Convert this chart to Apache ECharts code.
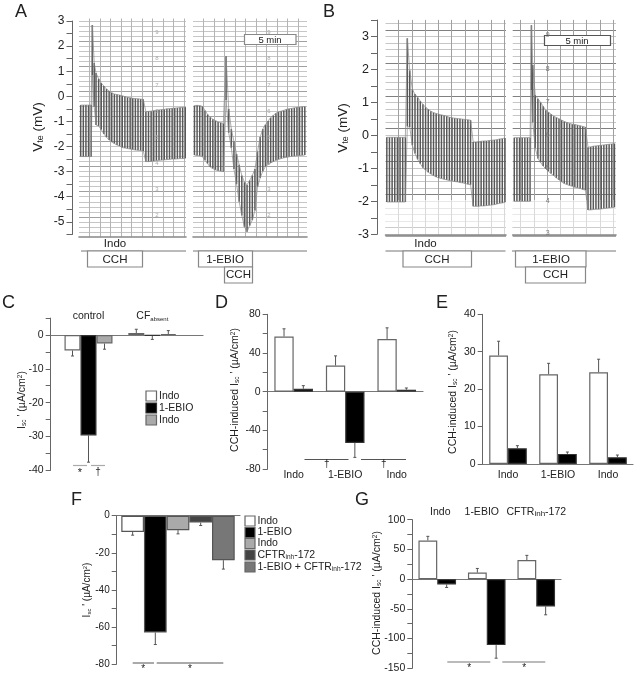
<!DOCTYPE html>
<html lang="en">
<head>
    <meta charset="UTF-8">
    <title>Vte traces and Isc' bars</title>
    <script src="https://cdn.jsdelivr.net/npm/echarts@6/dist/echarts.min.js"></script>
    <style>
        html, body {margin: 0; padding: 0; background: #fff;}
        #main {width: 636px; height: 674px; filter: blur(0.45px);}
    </style>
</head>
<body>
<div id="main"></div>
<script type="text/javascript">
    // trace A, left part (minutes, top and bottom of every pulse, mV)
    var aLeftTime = [0.16,0.41,0.66,0.91,1.16,1.27,1.45,1.62,1.87,2.12,2.37,2.62,2.87,3.12,3.37,3.62,3.87,4.12,4.37,4.62,4.87,5.12,5.37,5.62,5.87,6.12,6.37,6.62,6.87,7.12,7.37,7.62,7.87,8.12,8.37,8.62,8.87,9.12,9.37,9.62,9.87,10.12];
    var aLeftTop = [-0.35,-0.35,-0.35,-0.35,-0.35,2.84,1.33,0.93,0.7,0.53,0.41,0.29,0.21,0.14,0.09,0.07,0.05,0.02,-0.01,-0.04,-0.06,-0.08,-0.09,-0.1,-0.11,-0.12,-0.61,-0.6,-0.59,-0.57,-0.55,-0.54,-0.53,-0.52,-0.5,-0.49,-0.48,-0.47,-0.46,-0.45,-0.44,-0.43];
    var aLeftBot = [-2.4,-2.4,-2.4,-2.4,-2.4,0.85,-0.42,-1.14,-1.18,-1.33,-1.5,-1.63,-1.74,-1.82,-1.88,-1.94,-1.98,-2.04,-2.06,-2.08,-2.1,-2.12,-2.14,-2.15,-2.16,-2.18,-2.6,-2.6,-2.59,-2.58,-2.56,-2.55,-2.54,-2.53,-2.52,-2.51,-2.5,-2.5,-2.49,-2.48,-2.48,-2.47];
    // trace A, right part
    var aRightTime = [0.14,0.39,0.64,0.89,1.14,1.39,1.64,1.89,2.14,2.39,2.64,2.89,3.15,3.4,3.65,3.9,4.15,4.4,4.65,4.9,5.15,5.4,5.65,5.9,6.15,6.4,6.65,6.9,7.15,7.4,7.65,7.9,8.15,8.4,8.65,8.9,9.15,9.4,9.65,9.9,10.15,10.4,10.65];
    var aRightTop = [-0.37,-0.36,-0.37,-0.4,-0.56,-0.72,-0.83,-0.91,-0.97,-1.02,-1.05,-1.08,1.6,-0.5,-1.3,-1.8,-2.3,-2.73,-3.15,-3.42,-3.52,-3.35,-3.15,-2.9,-2.2,-1.62,-1.3,-1.13,-0.98,-0.85,-0.76,-0.67,-0.62,-0.59,-0.56,-0.52,-0.5,-0.48,-0.46,-0.44,-0.43,-0.42,-0.41];
    var aRightBot = [-2.34,-2.36,-2.37,-2.4,-2.55,-2.68,-2.82,-2.88,-2.93,-2.96,-2.98,-3.0,-0.15,-1.45,-2.05,-2.9,-3.5,-4.2,-4.75,-5.2,-5.39,-5.15,-4.93,-4.55,-3.6,-3.25,-2.98,-2.8,-2.72,-2.65,-2.6,-2.55,-2.51,-2.48,-2.45,-2.43,-2.41,-2.39,-2.38,-2.37,-2.36,-2.35,-2.34];
    // trace B, left part
    var bLeftTime = [0.1,0.3,0.5,0.7,0.9,1.1,1.3,1.5,1.65,1.83,2.03,2.23,2.43,2.63,2.83,3.03,3.23,3.43,3.63,3.83,4.03,4.23,4.43,4.63,4.83,5.03,5.23,5.43,5.63,5.83,6.03,6.23,6.43,6.63,6.83,7.03,7.23,7.43,7.63,7.83,8.03,8.23,8.43,8.63,8.83,9.03];
    var bLeftTop = [-0.06,-0.06,-0.06,-0.06,-0.06,-0.06,-0.06,-0.06,2.94,1.97,1.39,1.25,1.15,1.04,0.94,0.85,0.79,0.73,0.69,0.66,0.64,0.62,0.6,0.58,0.55,0.53,0.52,0.51,0.5,0.49,0.48,0.47,0.46,-0.2,-0.2,-0.19,-0.18,-0.17,-0.17,-0.16,-0.15,-0.14,-0.13,-0.11,-0.1,-0.08];
    var bLeftBot = [-2.02,-2.02,-2.02,-2.02,-2.02,-2.02,-2.02,-2.02,0.27,0.25,-0.3,-0.55,-0.73,-0.86,-0.98,-1.05,-1.12,-1.17,-1.22,-1.26,-1.29,-1.31,-1.33,-1.35,-1.37,-1.38,-1.4,-1.41,-1.43,-1.44,-1.46,-1.48,-1.5,-2.15,-2.15,-2.15,-2.14,-2.14,-2.13,-2.12,-2.11,-2.1,-2.08,-2.06,-2.05,-2.03];
    // trace B, right part
    var bRightTime = [0.12,0.32,0.52,0.72,0.92,1.12,1.32,1.42,1.52,1.71,1.91,2.11,2.31,2.51,2.71,2.91,3.11,3.31,3.51,3.71,3.91,4.11,4.31,4.51,4.71,4.91,5.11,5.31,5.51,5.71,5.91,6.11,6.31,6.51,6.71,6.91,7.11,7.31,7.51,7.71];
    var bRightTop = [-0.07,-0.07,-0.07,-0.07,-0.07,-0.07,-0.07,3.34,2.13,1.22,1.11,1.0,0.88,0.76,0.7,0.64,0.58,0.54,0.5,0.46,0.42,0.39,0.36,0.34,0.33,0.31,0.29,0.27,0.25,-0.36,-0.35,-0.33,-0.32,-0.31,-0.3,-0.29,-0.28,-0.27,-0.26,-0.25];
    var bRightBot = [-2,-2,-2,-2,-2,-2,-2,1.37,0.4,-0.39,-0.7,-0.82,-0.93,-1.02,-1.09,-1.16,-1.22,-1.29,-1.35,-1.41,-1.46,-1.49,-1.52,-1.54,-1.57,-1.59,-1.61,-1.64,-1.66,-2.26,-2.26,-2.25,-2.24,-2.24,-2.23,-2.22,-2.21,-2.2,-2.19,-2.18];

    // panel C
    var cGroups = ['control', 'CF'];
    var cIndo1 = [-4.55, 0.6];
    var cEbio = [-29.7, -0.2];
    var cIndo2 = [-2.5, 0.3];
    var cIndo1Err = [-6.2, 1.7];
    var cEbioErr = [-37.6, -1.3];
    var cIndo2Err = [-4.2, 1.3];
    // panel D
    var dGroups = ['Indo', '1-EBIO', 'Indo'];
    var dWhite = [57, 27, 54.5];
    var dBlack = [3, -53, 2];
    var dWhiteErr = [65, 37, 66];
    var dBlackErr = [6.2, -68, 3.8];
    // panel E
    var eGroups = ['Indo', '1-EBIO', 'Indo'];
    var eWhite = [29, 24, 24.5];
    var eBlack = [4.2, 2.7, 1.8];
    var eWhiteErr = [32.8, 26.9, 28];
    var eBlackErr = [4.9, 3.2, 2.4];
    // panel F
    var fNames = ['Indo', '1-EBIO', 'Indo', 'CFTRinh-172', '1-EBIO + CFTRinh-172'];
    var fValues = [-8.8, -63, -7.8, -3.7, -24];
    var fErr = [-10.5, -69.5, -9.8, -5.3, -28.8];
    // panel G
    var gGroups = ['Indo', '1-EBIO', 'CFTR'];
    var gWhite = [65, 11, 32];
    var gBlack = [-9, -111, -46];
    var gWhiteErr = [72, 18, 40];
    var gBlackErr = [-14, -133, -60];

    var FONT = '"Liberation Sans", Arial, sans-serif';
    var grids = [], xAxes = [], yAxes = [], series = [], notes = [];

    function isInt(v) {
        return Math.abs(v - Math.round(v)) < 1e-6;
    }

    // a grid placed by its pixel box
    function addGrid(left, right, top, bottom) {
        grids.push({left: left, top: top, width: right - left, height: bottom - top, containLabel: false});
        return grids.length - 1;
    }

    // y axis with its own small grid, no marks in it, optional zero line going right
    function addScale(left, right, top, bottom, min, max, step, labelStep, fontSize, zeroLine) {
        var g = addGrid(left, right, top, bottom);
        var tickLen = fontSize > 11 ? 6 : 5;
        xAxes.push({
            gridIndex: g, type: 'value', min: 0, max: 1,
            axisLine: {show: !!zeroLine, onZero: true, lineStyle: {color: '#777', width: 1.2}},
            axisTick: {show: false}, axisLabel: {show: false}, splitLine: {show: false}
        });
        yAxes.push({
            gridIndex: g, type: 'value', min: min, max: max, interval: step,
            axisLine: {show: true, lineStyle: {color: '#666', width: 1}},
            axisTick: {show: true, length: tickLen, lineStyle: {color: '#666'}},
            splitLine: {show: false},
            axisLabel: {
                margin: tickLen + 2, color: '#222', fontFamily: FONT, fontSize: fontSize,
                formatter: function (v) { return isInt(v / labelStep) ? String(v) : ''; }
            }
        });
    }

    // one chart-recorder trace on ruled paper
    function addTrace(left, right, top, bottom, xMax, xStep, xColors, yMin, yMax, yColors, times, tops, bots) {
        var g = addGrid(left, right, top, bottom);
        xAxes.push({
            gridIndex: g, type: 'value', min: 0, max: xMax, interval: xStep,
            axisLine: {show: true, onZero: false, lineStyle: {color: '#888', width: 1.6}},
            axisTick: {show: false}, axisLabel: {show: false},
            splitLine: {show: true, showMinLine: false, showMaxLine: false, lineStyle: {color: xColors, width: 1}}
        });
        yAxes.push({
            gridIndex: g, type: 'value', min: yMin, max: yMax, interval: 0.2,
            axisLine: {show: false}, axisTick: {show: false}, axisLabel: {show: false},
            splitLine: {show: true, showMinLine: false, showMaxLine: false, lineStyle: {color: yColors, width: 1}}
        });
        var xi = xAxes.length - 1, yi = yAxes.length - 1;
        var pulses = times.map(function (t, i) { return [t, tops[i], bots[i]]; });
        series.push({
            type: 'custom', xAxisIndex: xi, yAxisIndex: yi, data: pulses, silent: true,
            encode: {x: 0, y: [1, 2]},
            renderItem: function (params, api) {
                var a = api.coord([api.value(0), api.value(1)]);
                var b = api.coord([api.value(0), api.value(2)]);
                return {type: 'line', shape: {x1: a[0], y1: a[1], x2: b[0], y2: b[1]}, style: {stroke: '#585858', lineWidth: 1.5}};
            }
        });
        [1, 2].forEach(function (k) {
            series.push({
                type: 'line', xAxisIndex: xi, yAxisIndex: yi, showSymbol: false, silent: true,
                data: pulses.map(function (p) { return [p[0], p[k]]; }),
                lineStyle: {color: '#888', width: 0.7}
            });
        });
    }

    function addErrors(ax, offset, values, errs) {
        series.push({
            type: 'custom', xAxisIndex: ax.x, yAxisIndex: ax.y, silent: true, clip: false,
            data: values.map(function (v, i) { return [i, v, errs[i]]; }),
            encode: {x: 0, y: [1, 2]},
            renderItem: function (params, api) {
                var a = api.coord([api.value(0), api.value(1)]);
                var b = api.coord([api.value(0), api.value(2)]);
                var x = a[0] + offset;
                var st = {stroke: '#555', lineWidth: 1};
                return {type: 'group', children: [
                    {type: 'line', shape: {x1: x, y1: a[1], x2: x, y2: b[1]}, style: st},
                    {type: 'line', shape: {x1: x - 1.5, y1: b[1], x2: x + 1.5, y2: b[1]}, style: st}
                ]};
            }
        });
    }

    // grid holding bars, its y scale matches the one drawn by addScale
    function addBarGrid(left, right, top, bottom, min, max, cats) {
        var g = addGrid(left, right, top, bottom);
        xAxes.push({
            gridIndex: g, type: 'category', data: cats, position: 'bottom',
            axisLine: {show: false, onZero: true}, axisTick: {show: false}, axisLabel: {show: false}
        });
        yAxes.push({gridIndex: g, type: 'value', min: min, max: max, show: false, splitLine: {show: false}});
        return {x: xAxes.length - 1, y: yAxes.length - 1, grid: g};
    }

    function addBars(ax, values, width, fill, border) {
        series.push({
            type: 'bar', xAxisIndex: ax.x, yAxisIndex: ax.y, data: values, barWidth: width, barGap: 0, silent: true,
            itemStyle: {color: fill, borderColor: border, borderWidth: 1.2}
        });
    }

    // extra axis used only for category text
    function addCatLabels(ax, cats, pos, margin, labelOpt) {
        xAxes.push({
            gridIndex: ax.grid, type: 'category', data: cats, position: pos,
            axisLine: {show: false, onZero: false}, axisTick: {show: false},
            axisLabel: Object.assign({
                show: true, margin: margin, interval: 0, color: '#222', fontFamily: FONT, fontSize: 10.5
            }, labelOpt || {})
        });
    }

    function gLine(x1, y1, x2, y2, color, w) {
        notes.push({type: 'line', z: 100, silent: true, shape: {x1: x1, y1: y1, x2: x2, y2: y2}, style: {stroke: color, lineWidth: w || 1}});
    }
    function gRect(x1, y1, x2, y2, fill, stroke, w) {
        notes.push({type: 'rect', z: 100, silent: true, shape: {x: x1, y: y1, width: x2 - x1, height: y2 - y1}, style: {fill: fill, stroke: stroke, lineWidth: w || 1.2}});
    }
    // paper area that printed faintly: white veil between the rules and the trace
    function gVeil(x1, y1, x2, y2) {
        notes.push({type: 'rect', z: 1, silent: true, shape: {x: x1, y: y1, width: x2 - x1, height: y2 - y1}, style: {fill: 'rgba(255,255,255,0.6)'}});
    }
    function gText(x, y, text, size, opt) {
        opt = opt || {};
        notes.push({
            type: 'text', z: 101, silent: true, x: x, y: y, rotation: opt.rotate ? Math.PI / 2 : 0,
            style: {
                text: text, fontSize: size, fontFamily: FONT, fill: opt.color || '#222',
                align: opt.align || 'center', verticalAlign: 'middle', rich: opt.rich
            }
        });
    }
    function subRich(size, subSize) {
        return {
            n: {fontSize: size, fontFamily: FONT, fill: '#222'},
            s: {fontSize: subSize, fontFamily: FONT, fill: '#222', verticalAlign: 'bottom'},
            u: {fontSize: subSize, fontFamily: FONT, fill: '#222', verticalAlign: 'top'}
        };
    }

    // ---- A ----
    var faint = '#c6c6c6', darkA = '#a0a0a0', darkB = '#808080', none = 'rgba(0,0,0,0)';
    addScale(72.5, 73.5, 21, 234.4, -5.5, 3, 0.5, 1, 12);
    addTrace(79, 186, 18.5, 236.9, 10.19, 1, ['#b4b4b4'], -5.6, 3.1, [faint, faint, faint, darkA, faint], aLeftTime, aLeftTop, aLeftBot);
    addTrace(193, 307, 18.5, 236.9, 10.86, 0.1, [none, none, none, none, none, none, none, none, none, '#b4b4b4'], -5.6, 3.1, [faint, faint, faint, darkA, faint], aRightTime, aRightTop, aRightBot);
    gText(38, 127, '{n|V}{s|te}{n| (mV)}', 13.5, {rotate: true, rich: subRich(13.5, 9)});
    gText(15, 12, 'A', 18, {align: 'left'});
    gText(115, 244, 'Indo', 11.5);
    gLine(81, 251, 186, 251, '#777');
    gLine(193, 251, 307, 251, '#777');
    gRect(87.5, 251, 142.5, 267, '#fff', '#888');
    gText(115, 259.5, 'CCH', 11.5);
    gRect(198.5, 251, 252.5, 267, '#fff', '#888');
    gText(225, 259.5, '1-EBIO', 11.5);
    gRect(224.5, 267, 252.5, 283, '#fff', '#888');
    gText(238.5, 275, 'CCH', 11.5);
    gRect(244.5, 34.5, 296, 44.5, '#fff', '#888');
    gText(270, 40, '5 min', 9.5);

    // ---- B ----
    addScale(377, 378, 20, 234.3, -3, 3.5, 0.5, 1, 12.5);
    addTrace(385.5, 506, 19.9, 234.3, 9.11, 1, ['#a0a0a0'], -3, 3.5, [darkB, faint, faint, faint, faint], bLeftTime, bLeftTop, bLeftBot);
    addTrace(512.7, 616, 19.9, 234.3, 7.83, 0.2, [none, none, '#a0a0a0', none, none], -3, 3.5, [darkB, faint, faint, faint, faint], bRightTime, bRightTop, bRightBot);
    gVeil(385.5, 200, 506, 234);
    gVeil(512.7, 200, 616, 234);
    gText(343, 128, '{n|V}{s|te}{n| (mV)}', 13.5, {rotate: true, rich: subRich(13.5, 9)});
    gText(323, 12, 'B', 18, {align: 'left'});
    gLine(385.5, 236, 506, 236, '#888', 1.6);
    gLine(512.7, 236, 616, 236, '#888', 1.6);
    gText(425.5, 244, 'Indo', 11.5);
    gLine(385.5, 251, 505.5, 251, '#777');
    gLine(512, 251, 616, 251, '#777');
    gRect(403, 251, 471.5, 267, '#fff', '#888');
    gText(437, 259.5, 'CCH', 11.5);
    gRect(515.5, 251, 586, 267, '#fff', '#888');
    gText(551, 259.5, '1-EBIO', 11.5);
    gRect(525.5, 267, 585.5, 283, '#fff', '#888');
    gText(555.5, 275, 'CCH', 11.5);
    gRect(544.5, 35.5, 610.5, 45.5, '#fff', '#555');
    gText(577, 41, '5 min', 9.5);

    // printed paper marks
    [32, 58, 85, 111, 137, 163, 189, 215].forEach(function (y, i) {
        gText(157, y, String(9 - i), 6, {color: '#aaa'});
        gText(269, y, String(9 - i), 6, {color: '#aaa'});
    });
    [35, 69, 102, 135, 168, 201, 233].forEach(function (y, i) {
        gText(547.7, y, String(9 - i), 7, {color: '#777'});
    });

    // ---- C ----
    addScale(50.7, 203, 318.1, 470.3, -40, 5, 5, 10, 10.5, true);
    var cAx = addBarGrid(56.6, 184.2, 318.1, 470.3, -40, 5, cGroups);
    addBars(cAx, cIndo1, 16, '#fff', '#666');
    addBars(cAx, cEbio, 16, '#000', '#333');
    addBars(cAx, cIndo2, 16, '#aaa', '#666');
    addErrors(cAx, -16, cIndo1, cIndo1Err);
    addErrors(cAx, 0, cEbio, cEbioErr);
    addErrors(cAx, 16, cIndo2, cIndo2Err);
    addCatLabels(cAx, cGroups, 'top', -4, {
        formatter: function (v) { return v === 'CF' ? '{n|CF}{s|absent}' : '{n|' + v + '}'; },
        rich: {n: {fontSize: 10.5, fontFamily: FONT, color: '#222'}, s: {fontSize: 6, fontFamily: FONT, color: '#222', verticalAlign: 'bottom'}}
    });
    gText(22, 400, "{n|I}{s|sc}{n| ' (\u00b5A/cm}{u|2}{n|)}", 10.5, {rotate: true, rich: subRich(10.5, 6.5)});
    gText(2, 303, 'C', 18, {align: 'left'});
    gRect(146, 391, 156.5, 401, '#fff', '#666');
    gRect(146, 403, 156.5, 413, '#000', '#333');
    gRect(146, 415, 156.5, 425, '#aaa', '#666');
    gText(159, 396, 'Indo', 10.5, {align: 'left'});
    gText(159, 408, '1-EBIO', 10.5, {align: 'left'});
    gText(159, 420, 'Indo', 10.5, {align: 'left'});
    gLine(73, 465.5, 87, 465.5, '#aaa', 1.2);
    gLine(91, 465.5, 105, 465.5, '#aaa', 1.2);
    gText(80, 473, '*', 11);
    gText(98, 472, '\u2020', 10);

    // ---- D ----
    addScale(267.7, 423, 314.3, 469, -80, 80, 20, 40, 10.5, true);
    var dAx = addBarGrid(267.9, 422.5, 314.3, 469, -80, 80, dGroups);
    addBars(dAx, dWhite, 19.3, '#fff', '#666');
    addBars(dAx, dBlack, 19.3, '#000', '#333');
    addErrors(dAx, -9.65, dWhite, dWhiteErr);
    addErrors(dAx, 9.65, dBlack, dBlackErr);
    addCatLabels(dAx, dGroups, 'bottom', 1);
    gText(235, 390, "{n|CCH-induced I}{s|sc}{n| ' (\u00b5A/cm}{u|2}{n|)}", 10.5, {rotate: true, rich: subRich(10.5, 6.5)});
    gText(215, 303, 'D', 18, {align: 'left'});
    gLine(304.5, 459.5, 348.5, 459.5, '#555');
    gLine(361, 459.5, 406, 459.5, '#555');
    gText(326.7, 464, '\u2020', 10);
    gText(383.7, 464, '\u2020', 10);

    // ---- E ----
    addScale(482.7, 633, 314.3, 464, 0, 40, 10, 10, 10.5, true);
    var eAx = addBarGrid(483, 633, 314.3, 464, 0, 40, eGroups);
    addBars(eAx, eWhite, 18.8, '#fff', '#666');
    addBars(eAx, eBlack, 18.8, '#000', '#333');
    addErrors(eAx, -9.4, eWhite, eWhiteErr);
    addErrors(eAx, 9.4, eBlack, eBlackErr);
    addCatLabels(eAx, eGroups, 'bottom', 6);
    gText(453, 392, "{n|CCH-induced I}{s|sc}{n| ' (\u00b5A/cm}{u|2}{n|)}", 10.5, {rotate: true, rich: subRich(10.5, 6.5)});
    gText(436, 303, 'E', 18, {align: 'left'});

    // ---- F ----
    var fColors = ['#fff', '#000', '#aaa', '#444', '#777'];
    addScale(116.7, 240, 515.7, 664, -80, 0, 10, 20, 10, true);
    var fAx = addBarGrid(121.3, 234.7, 515.7, 664, -80, 0, fNames);
    series.push({
        type: 'bar', xAxisIndex: fAx.x, yAxisIndex: fAx.y, barWidth: 22.7, silent: true,
        data: fValues.map(function (v, i) {
            return {value: v, itemStyle: {color: fColors[i], borderColor: '#555', borderWidth: 1.2}};
        })
    });
    addErrors(fAx, 0, fValues, fErr);
    gText(87, 590, "{n|I}{s|sc}{n| ' (\u00b5A/cm}{u|2}{n|)}", 10, {rotate: true, rich: subRich(10, 6)});
    gText(71, 500, 'F', 18, {align: 'left'});
    var fRows = [521, 532.5, 543.5, 555, 567];
    fColors.forEach(function (c, i) {
        gRect(245, fRows[i] - 5, 255, fRows[i] + 5, c, '#666');
    });
    var fRich = subRich(10.5, 6.5);
    gText(257.5, fRows[0], 'Indo', 10.5, {align: 'left'});
    gText(257.5, fRows[1], '1-EBIO', 10.5, {align: 'left'});
    gText(257.5, fRows[2], 'Indo', 10.5, {align: 'left'});
    gText(257.5, fRows[3], '{n|CFTR}{s|inh}{n|-172}', 10.5, {align: 'left', rich: fRich});
    gText(257.5, fRows[4], '{n|1-EBIO + CFTR}{s|inh}{n|-172}', 10.5, {align: 'left', rich: fRich});
    gLine(132.7, 663, 154, 663, '#555');
    gLine(156.7, 663, 223.3, 663, '#555');
    gText(143.3, 669, '*', 10);
    gText(190, 669, '*', 10);

    // ---- G ----
    addScale(412.3, 561, 519.7, 668.3, -150, 100, 25, 50, 10.5, true);
    var gAx = addBarGrid(412.5, 561, 519.7, 668.3, -150, 100, gGroups);
    addBars(gAx, gWhite, 18.8, '#fff', '#666');
    addBars(gAx, gBlack, 18.8, '#000', '#333');
    addErrors(gAx, -9.4, gWhite, gWhiteErr);
    addErrors(gAx, 9.4, gBlack, gBlackErr);
    addCatLabels(gAx, gGroups, 'top', 2, {
        formatter: function (v) {
            if (v === 'CFTR') return '{n|CFTR}{s|inh}{n|-172}';
            if (v === 'Indo') return '{l|Indo}';
            return '{r|' + v + '}';
        },
        rich: {
            n: {fontSize: 10.5, fontFamily: FONT, color: '#222'},
            s: {fontSize: 8, fontFamily: FONT, color: '#222', verticalAlign: 'bottom'},
            l: {fontSize: 10.5, fontFamily: FONT, color: '#222', padding: [0, 0, 0, 6]},
            r: {fontSize: 10.5, fontFamily: FONT, color: '#222', padding: [0, 10, 0, 0]}
        }
    });
    gText(377, 593, "{n|CCH-induced I}{s|sc}{n| ' (\u00b5A/cm}{u|2}{n|)}", 10.5, {rotate: true, rich: subRich(10.5, 6.5)});
    gText(355, 500, 'G', 18, {align: 'left'});
    gLine(447.3, 662, 490.3, 662, '#777');
    gLine(502.3, 662, 545.3, 662, '#777');
    gText(469.3, 668, '*', 10);
    gText(524.3, 668, '*', 10);

    var myChart = echarts.init(document.getElementById('main'));
    myChart.setOption({
        animation: false,
        backgroundColor: '#fff',
        grid: grids,
        xAxis: xAxes,
        yAxis: yAxes,
        series: series,
        graphic: {elements: notes}
    });
</script>
</body>
</html>
